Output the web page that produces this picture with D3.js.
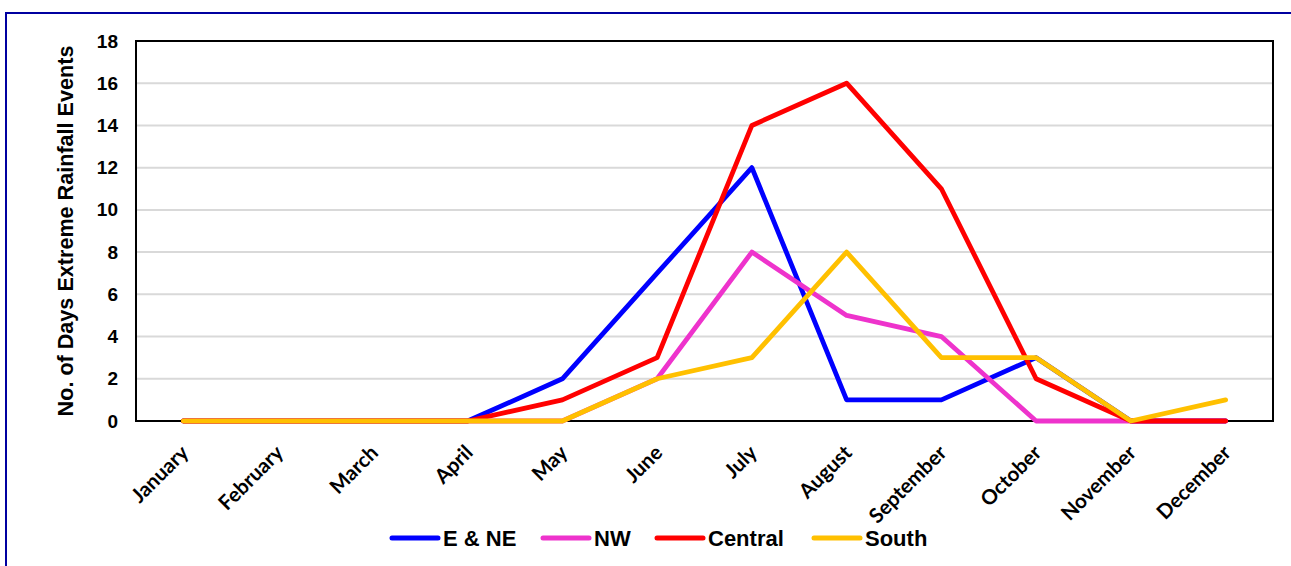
<!DOCTYPE html>
<html><head><meta charset="utf-8">
<script src="https://cdn.jsdelivr.net/npm/d3@7"></script>
<style>body{margin:0;background:#fff;}svg{display:block;font-family:"Liberation Sans",Arial,sans-serif;}</style>
</head><body>
<svg id="chart" width="1291" height="566"></svg>
<script>
const months = ["January","February","March","April","May","June","July","August","September","October","November","December"];
const eNE     = [0,0,0,0,2,7,12,1,1,3,0,0];
const nw      = [0,0,0,0,0,2,8,5,4,0,0,0];
const central = [0,0,0,0,1,3,14,16,11,2,0,0];
const south   = [0,0,0,0,0,2,3,8,3,3,0,1];
const seriesNames = ["E & NE","NW","Central","South"];
const seriesColors = ["#0000FF","#EE33CC","#FF0000","#FFC000"];
const yTicks = [0,2,4,6,8,10,12,14,16,18];
const yTitle = "No. of Days Extreme Rainfall Events";

const series = [eNE, nw, central, south].map((v,i)=>({name:seriesNames[i], color:seriesColors[i], values:v}));

const svg = d3.select("#chart");
const m = {left:136, right:1273, top:41, bottom:421};

// outer border
svg.append("rect").attr("x",6).attr("y",13).attr("width",1320).attr("height",600)
  .attr("fill","none").attr("stroke","#0000A0").attr("stroke-width",2);

const x = d3.scalePoint().domain(months).range([m.left, m.right]).padding(0.5);
const y = d3.scaleLinear().domain([0,18]).range([m.bottom, m.top]);

// gridlines
svg.append("g").selectAll("line").data(yTicks.filter(d=>d>0 && d<18)).join("line")
  .attr("x1",m.left).attr("x2",m.right).attr("y1",d=>y(d)).attr("y2",d=>y(d))
  .attr("stroke","#D9D9D9").attr("stroke-width",2);

// y axis labels
const yAxis = d3.axisLeft(y).tickValues(yTicks).tickSize(0).tickPadding(18);
const gy = svg.append("g").attr("transform",`translate(${m.left},0)`).call(yAxis);
gy.select(".domain").remove();
gy.selectAll("text").attr("font-size",19).attr("font-weight","bold").attr("fill","#000")
  .attr("font-family","Liberation Sans, Arial, sans-serif");

// x axis labels
const xAxis = d3.axisBottom(x).tickSize(0).tickPadding(0);
const gx = svg.append("g").attr("transform",`translate(0,${m.bottom})`).call(xAxis);
gx.select(".domain").remove();
gx.selectAll("text").attr("font-size",20.5).attr("font-weight","bold").attr("fill","#000")
  .attr("font-family","Lato, 'Open Sans', sans-serif")
  .attr("text-anchor","end").attr("dy",null).attr("y",0)
  .attr("transform","translate(6,33) rotate(-45)");

// plot frame
svg.append("rect").attr("x",m.left).attr("y",m.top).attr("width",m.right-m.left).attr("height",m.bottom-m.top)
  .attr("fill","none").attr("stroke","#000").attr("stroke-width",2);

// lines
const line = d3.line().x((d,i)=>x(months[i])).y(d=>y(d));
svg.append("g").selectAll("path").data(series).join("path")
  .attr("d",d=>line(d.values)).attr("fill","none").attr("stroke",d=>d.color)
  .attr("stroke-width",4.8).attr("stroke-linejoin","round").attr("stroke-linecap","round");

// y title
svg.append("text").attr("transform","translate(73,231) rotate(-90)").attr("text-anchor","middle")
  .attr("font-size",21.6).attr("font-weight","bold").attr("fill","#000").text(yTitle);

// legend
const legX = [390, 541, 655, 812];
const lg = svg.append("g").selectAll("g").data(series).join("g")
  .attr("transform",(d,i)=>`translate(${legX[i]},538)`);
lg.append("line").attr("x1",2).attr("x2",48).attr("y1",0).attr("y2",0)
  .attr("stroke",d=>d.color).attr("stroke-width",5).attr("stroke-linecap","round");
lg.append("text").attr("x",53).attr("y",0).attr("dy","0.36em").attr("font-size",22).attr("font-weight","bold")
  .attr("fill","#000").text(d=>d.name);
</script>
</body></html>
